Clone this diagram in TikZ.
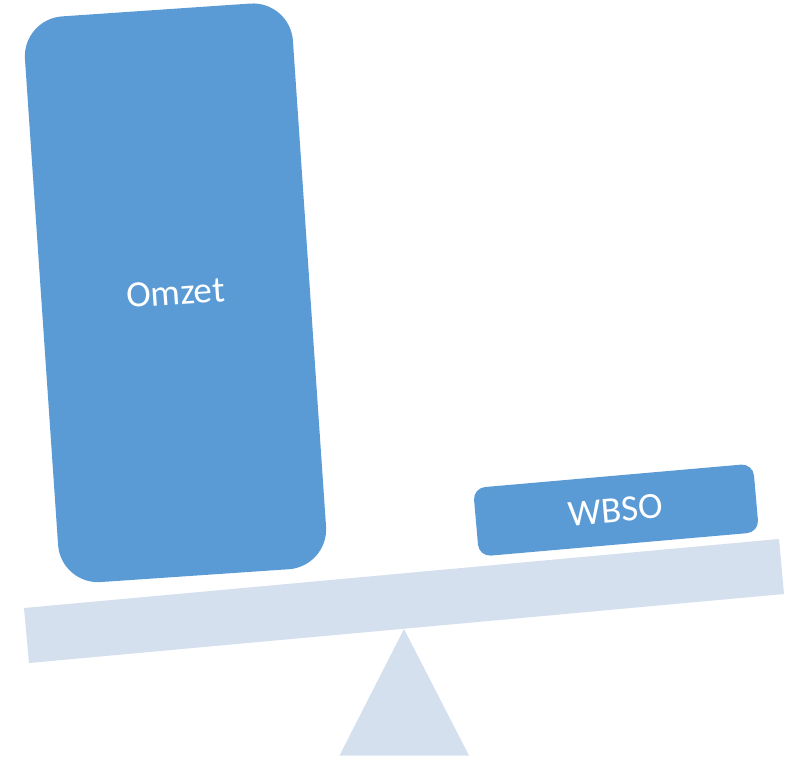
\documentclass[tikz,border=0pt]{standalone}
\usepackage{fontspec}
\setmainfont{Carlito}
\definecolor{boxblue}{HTML}{5B9BD5}
\definecolor{lightblue}{HTML}{D5E0EF}
\begin{document}
\begin{tikzpicture}[x=1pt,y=-1pt,
  weight/.style={fill=boxblue, draw=none, rectangle, inner sep=0pt,
    text=white, font=\fontsize{37}{44}\selectfont},
  support/.style={fill=lightblue, draw=none}]
\useasboundingbox (0,0) rectangle (795,763);
% beam
\coordinate (b1) at (24,608);
\coordinate (b2) at (779,539);
\coordinate (b3) at (784,594);
\coordinate (b4) at (29,663);
\fill[support] (b1) -- (b2) -- (b3) -- (b4) -- cycle;
% fulcrum
\coordinate (apex) at (404,629);
\coordinate (bl) at (339.5,755.5);
\coordinate (br) at (469,755.5);
\fill[support] (apex) -- (br) -- (bl) -- cycle;
% weights
\node[weight, rounded corners=40pt, minimum width=268.6pt, minimum height=567pt,
  rotate=3.9] (omzet) at (175.5,292.8) {Omzet};
\node[weight, rounded corners=12pt, minimum width=281pt, minimum height=68.8pt,
  rotate=5.0] (wbso) at (616,510.1) {WBSO};
\end{tikzpicture}
\end{document}
